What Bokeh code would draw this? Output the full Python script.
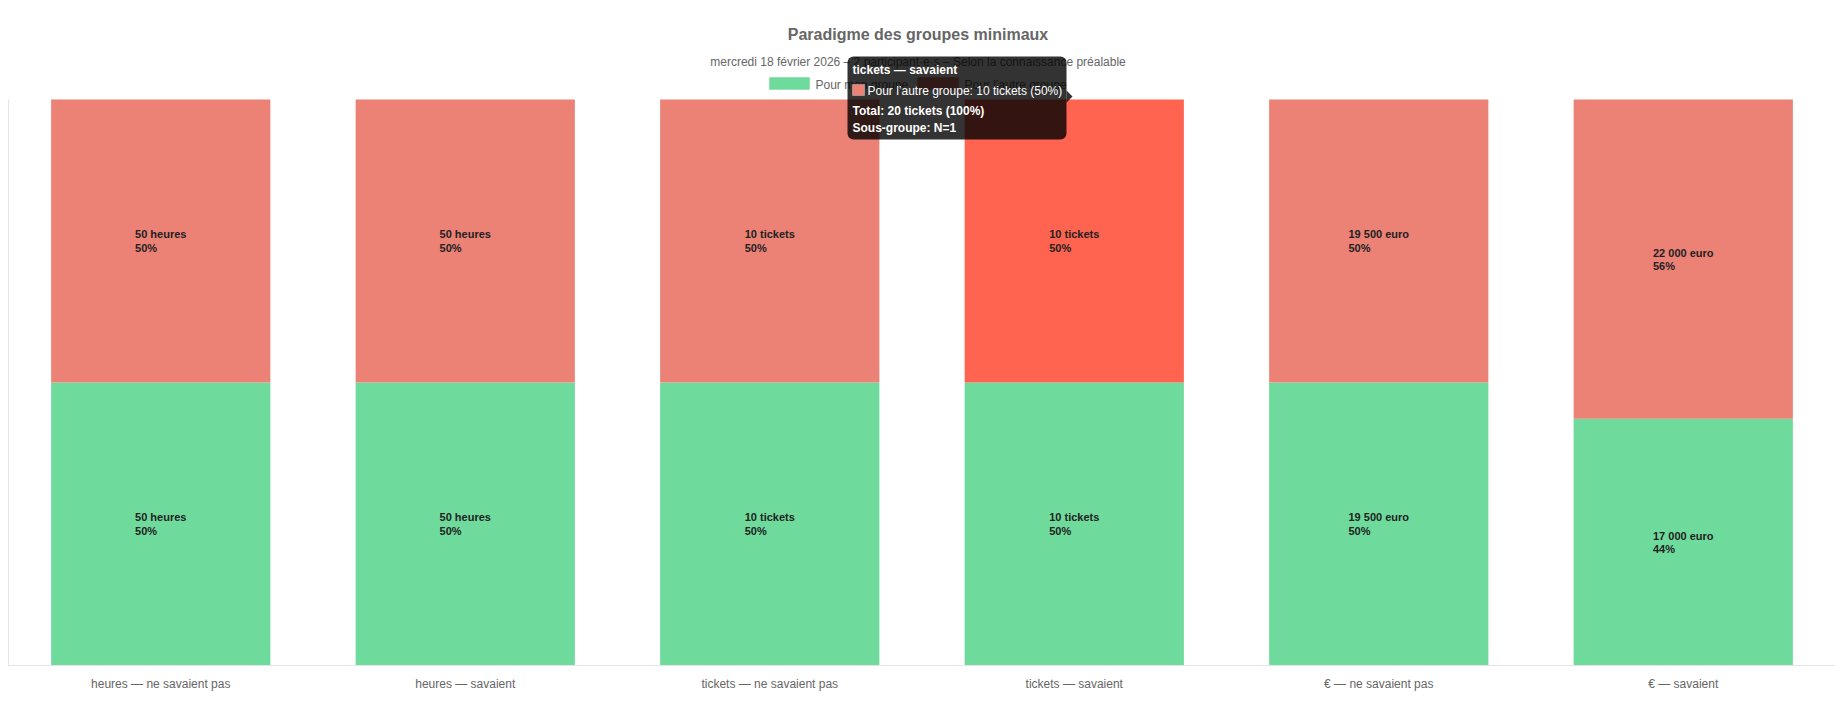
from bokeh.plotting import figure
from bokeh.models import (FactorRange, Range1d, Label, BoxAnnotation, PolyAnnotation,
                          ColumnDataSource, FixedTicker)
from bokeh.core.properties import value
from bokeh.embed import file_html
from bokeh.resources import INLINE

# ---------------- data ----------------
categories = ["heures — ne savaient pas", "heures — savaient",
              "tickets — ne savaient pas", "tickets — savaient",
              "€ — ne savaient pas", "€ — savaient"]
units = ["heures", "heures", "tickets", "tickets", "euro", "euro"]
mon_groupe = [50, 50, 10, 10, 19500, 17000]
autre_groupe = [50, 50, 10, 10, 19500, 22000]
series_names = ["Pour mon groupe", "Pour l’autre groupe"]
title_text = "Paradigme des groupes minimaux"
subtitle_text = "mercredi 18 février 2026 – 2 participant·e·s – Selon la connaissance préalable"
hovered_index = 3
hovered_subgroup_n = 1

# ---------------- styles / layout ----------------
GREEN = "#6edb9c"
GREEN_BORDER = "#42cc7e"
RED = "#ec8176"
RED_BORDER = "#e4685c"
RED_HOVER = "#ff6450"
FONT = "Liberation Sans"
W, H = 1835, 695
LEFT_BORDER = 8
FRAME_H = 665          # frame spans from the canvas top down to the x axis
BAR_AREA_H = 566       # pixel height of the 0..100 % bar area
Y_END = 100.0 * FRAME_H / BAR_AREA_H

def fmt(n):
    return f"{n:,}".replace(",", "\u00a0")

# Arial bold advance widths (per 1000 em) for centering left-aligned label blocks
BW = {c: 556 for c in "0123456789"}
BW.update({" ": 278, "\u00a0": 278, "h": 611, "e": 556, "u": 611, "r": 389, "s": 556,
           "t": 333, "i": 278, "c": 556, "k": 556, "o": 611, "%": 889})

def text_w(s, size=11):
    return sum(BW.get(ch, 556) for ch in s) * size / 1000.0

totals = [m + a for m, a in zip(mon_groupe, autre_groupe)]
pct_mon = [100.0 * m / t for m, t in zip(mon_groupe, totals)]
pct_autre = [100.0 * a / t for a, t in zip(autre_groupe, totals)]

def block(vals, pcts):
    texts, offs = [], []
    for v, u, pc in zip(vals, units, pcts):
        l1 = f"{fmt(v)} {u}"
        l2 = f"{round(pc)}%"
        texts.append(l1 + "\n" + l2)
        offs.append(-max(text_w(l1), text_w(l2)) / 2.0)
    return texts, offs

mon_text, mon_off = block(mon_groupe, pct_mon)
autre_text, autre_off = block(autre_groupe, pct_autre)

src = ColumnDataSource(dict(
    x=categories,
    mon=pct_mon,
    top=[m + a for m, a in zip(pct_mon, pct_autre)],
    mon_mid=[m / 2 for m in pct_mon],
    autre_mid=[m + a / 2 for m, a in zip(pct_mon, pct_autre)],
    autre_color=[RED_HOVER if i == hovered_index else RED for i in range(len(categories))],
    mon_text=mon_text, mon_off=mon_off,
    autre_text=autre_text, autre_off=autre_off,
))

p = figure(width=W, height=H,
           x_range=FactorRange(*categories, range_padding=0),
           y_range=Range1d(0, Y_END),
           output_backend="svg", toolbar_location=None,
           min_border_left=LEFT_BORDER, min_border_right=0, min_border_top=0,
           min_border_bottom=H - FRAME_H)
p.outline_line_color = None
p.xgrid.visible = False
p.ygrid.visible = False

p.vbar(x="x", bottom=0, top="mon", width=0.72, source=src, fill_color=GREEN, line_color=None)
p.vbar(x="x", bottom="mon", top="top", width=0.72, source=src, fill_color="autre_color", line_color=None)

for ycol, tcol, ocol in [("mon_mid", "mon_text", "mon_off"), ("autre_mid", "autre_text", "autre_off")]:
    p.text(x="x", y=ycol, text=tcol, x_offset=ocol, source=src,
           text_align="left", text_baseline="middle",
           text_font=value(FONT), text_font_style="bold", text_font_size="11px",
           text_line_height=1.1, text_color="#222")

# axes
p.yaxis.ticker = FixedTicker(ticks=[])
p.yaxis.bounds = (0, 100)
p.yaxis.axis_line_color = "#e5e5e5"
p.yaxis.major_tick_line_color = None
p.yaxis.minor_tick_line_color = None
p.yaxis.major_label_standoff = 0
p.xaxis.axis_line_color = "#e5e5e5"
p.xaxis.major_tick_line_color = None
p.xaxis.minor_tick_line_color = None
p.xaxis.major_label_text_font = FONT
p.xaxis.major_label_text_font_size = "12px"
p.xaxis.major_label_text_color = "#666"
p.xaxis.major_label_standoff = 5

def screen_box(l, r, t, b, **kw):
    return BoxAnnotation(left=l, right=r, top=t, bottom=b,
                         left_units="screen", right_units="screen",
                         top_units="screen", bottom_units="screen", **kw)

def screen_label(x, y, text, size="12px", bold=False, color="#666", align="left"):
    return Label(x=x, y=y, x_units="screen", y_units="screen", text=text,
                 text_align=align, text_baseline="middle", text_font=FONT,
                 text_font_size=size, text_font_style="bold" if bold else "normal",
                 text_color=color)

# title & subtitle (screen units, relative to the frame's bottom-left)
p.add_layout(screen_label(909.5, 631, title_text, size="16px", bold=True, align="center"))
p.add_layout(screen_label(909.5, 604, subtitle_text, align="center"))

# legend
p.add_layout(screen_box(761, 801, 588, 576, fill_color=GREEN, fill_alpha=1,
                        line_color=GREEN_BORDER, line_width=1))
p.add_layout(screen_label(807, 581, series_names[0]))
p.add_layout(screen_box(909, 950, 588, 576, fill_color=RED, fill_alpha=1,
                        line_color=RED_BORDER, line_width=1))
p.add_layout(screen_label(956, 581, series_names[1]))

# tooltip (hover state of the captured chart)
cat = categories[hovered_index]
tip_l1 = f"{series_names[1]}: {fmt(autre_groupe[hovered_index])} {units[hovered_index]} ({round(pct_autre[hovered_index])}%)"
tip_total = f"Total: {fmt(totals[hovered_index])} {units[hovered_index]} (100%)"
tip_n = f"Sous-groupe: N={hovered_subgroup_n}"

p.add_layout(screen_box(839, 1058, 609, 526, fill_color="black", fill_alpha=0.8,
                        line_color=None, border_radius=6))
p.add_layout(PolyAnnotation(xs=[1058, 1064, 1058], ys=[575, 569, 563],
                            xs_units="screen", ys_units="screen",
                            fill_color="black", fill_alpha=0.8, line_color=None))
p.add_layout(screen_box(844, 856, 581, 570, fill_color=RED, fill_alpha=1,
                        line_color="white", line_width=1))
for txt, yy, xx, bold in [(cat, 596, 844, True), (tip_l1, 575, 859, False),
                          (tip_total, 555, 844, True), (tip_n, 538, 844, True)]:
    p.add_layout(screen_label(xx, yy, txt, bold=bold, color="white"))

open("out.html", "w").write(file_html(p, INLINE))
